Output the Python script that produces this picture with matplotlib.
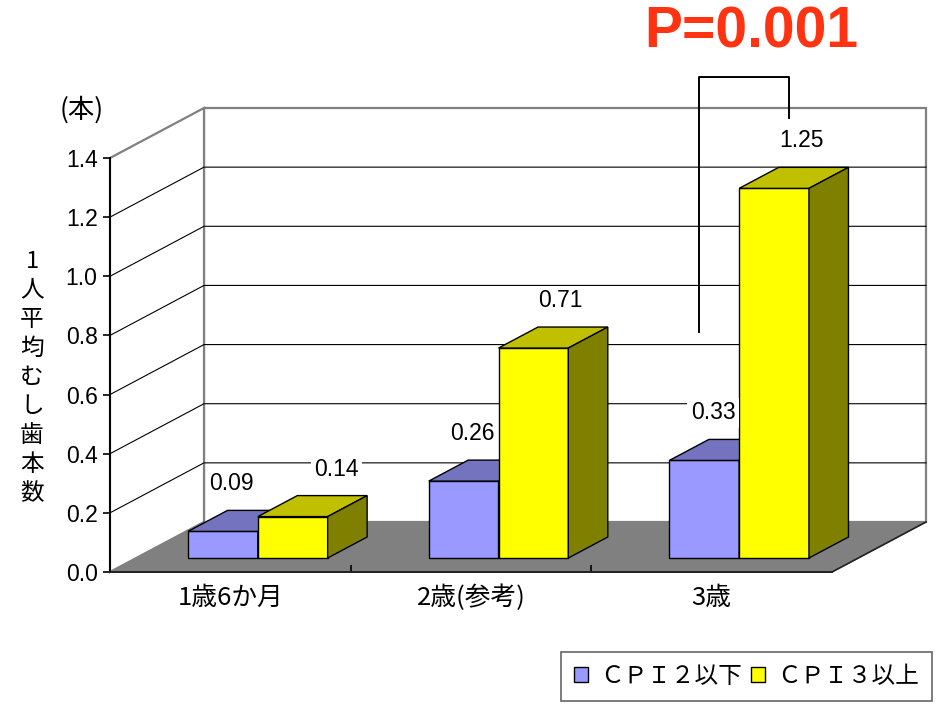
import numpy as np
import matplotlib
matplotlib.use('Agg')
import matplotlib.pyplot as plt
from matplotlib.patches import Polygon, Patch

plt.rcParams['font.family'] = ['Liberation Sans', 'DejaVu Sans']
CJK = ['Noto Sans CJK JP', 'DejaVu Sans']

categories = ['1歳6か月', '2歳(参考)', '3歳']
series_names = ['ＣＰＩ２以下', 'ＣＰＩ３以上']
low_cpi = [0.09, 0.26, 0.33]
high_cpi = [0.14, 0.71, 1.25]
yticks = [0.0, 0.2, 0.4, 0.6, 0.8, 1.0, 1.2, 1.4]
ylabel_chars = ['1', '人', '平', '均', 'む', 'し', '歯', '本', '数']

# face colours: front, top, side
blue = ('#9999ff', '#7373bf', '#4d4d80')
yellow = ('#ffff00', '#c0c000', '#808000')

W, H = 938, 707
fig = plt.figure(figsize=(W / 100, H / 100), dpi=100)
ax = fig.add_axes([110 / W, (H - 572) / H, 722 / W, 414 / H])
ymax = 1.4
ax.set_xlim(0, 3)
ax.set_ylim(0, ymax)

# oblique depth offset, in data units
DX = 94 / (722 / 3)
DY = 50 / (414 / ymax)


def proj(x, y, z):
    return (x + z * DX, y + z * DY)


def poly(pts, fc, ec='black', lw=1.0, z=2):
    ax.add_patch(Polygon(pts, closed=True, facecolor=fc, edgecolor=ec,
                         linewidth=lw, zorder=z, clip_on=False))


# walls and floor
poly([proj(0, 0, 1), proj(3, 0, 1), proj(3, ymax, 1), proj(0, ymax, 1)],
     'white', ec='#808080', lw=1.6, z=0)
poly([proj(0, 0, 0), proj(0, 0, 1), proj(0, ymax, 1), proj(0, ymax, 0)],
     'white', ec='#808080', lw=1.6, z=0)
for v in yticks[1:-1]:
    xs, ys = zip(proj(0, v, 0), proj(0, v, 1), proj(3, v, 1))
    ax.plot(xs, ys, color='black', lw=0.8, zorder=0.5, clip_on=False)
poly([proj(0, 0, 0), proj(3, 0, 0), proj(3, 0, 1), proj(0, 0, 1)],
     '#808080', ec='#808080', lw=1, z=1)

# bars
z0, z1 = 0.28, 0.70
bw = 0.29
x_start = 0.215
tops = []
for i in range(len(categories)):
    for s, (vals, cols) in enumerate([(low_cpi, blue), (high_cpi, yellow)]):
        x0 = i + x_start + s * bw
        x1 = x0 + bw
        h = vals[i]
        poly([proj(x0, 0, z0), proj(x1, 0, z0), proj(x1, h, z0), proj(x0, h, z0)], cols[0])
        poly([proj(x0, h, z0), proj(x1, h, z0), proj(x1, h, z1), proj(x0, h, z1)], cols[1])
        poly([proj(x1, 0, z0), proj(x1, 0, z1), proj(x1, h, z1), proj(x1, h, z0)], cols[2])
        mx, my = proj((x0 + x1) / 2, h, (z0 + z1) / 2)
        tops.append((s, i, mx, my, h))

# data labels
for s, i, mx, my, h in tops:
    dx = -0.045 if s == 0 else 0.03
    if s == 1 and i == 0:
        dx = 0.1
    ax.text(mx + dx, my + 0.125, f'{h:.2f}', ha='center', va='center', fontsize=16.5,
            zorder=5, bbox=dict(facecolor='white', edgecolor='none', pad=2.5),
            clip_on=False)

# axes
for sp in ['top', 'right']:
    ax.spines[sp].set_visible(False)
ax.spines['left'].set_linewidth(1.4)
ax.spines['bottom'].set_linewidth(1.4)
ax.spines['bottom'].set_color('#222222')
ax.spines['left'].set_zorder(3)
ax.spines['bottom'].set_zorder(3)
ax.set_yticks(yticks)
ax.set_yticklabels([f'{v:.1f}' for v in yticks], fontsize=16.5)
ax.tick_params(axis='y', direction='out', length=5, width=1.2, pad=4)
ax.set_xticks([1, 2])
ax.set_xticklabels([])
ax.tick_params(axis='x', direction='in', length=5, width=1.2)
ax.patch.set_visible(False)
for i, c in enumerate(categories):
    ax.text(i + 0.5, -0.088, c, ha='center', va='center', fontsize=18.5,
            family=CJK, clip_on=False)

# right wall corner on the floor
xs, ys = zip(proj(3, 0, 0), proj(3, 0, 1))
ax.plot(xs, ys, color='#222222', lw=1.2, zorder=1.5, clip_on=False)

# significance bracket
bx0 = 2 + x_start + bw / 2 + 0.5 * DX - 0.108
bx1 = 2 + x_start + 1.5 * bw + 0.5 * DX - 0.025
ax.plot([bx0, bx0, bx1, bx1], [low_cpi[2] + 0.48, 1.675, 1.675, high_cpi[2] + 0.285],
        color='black', lw=1.4, zorder=6, clip_on=False)
fig.text(751 / W, 1 - 33 / H, 'P=0.001', ha='center', va='center', fontsize=41,
         fontweight='bold', color='#ff3311')

# axis title
fig.text(82 / W, 1 - 110 / H, '(本)', ha='center', va='center', fontsize=19, family=CJK)
for k, ch in enumerate(ylabel_chars):
    fig.text(32 / W, 1 - (261 + 29.1 * k) / H, ch, ha='center', va='center',
             fontsize=17, family=CJK)

# legend
handles = [Patch(facecolor=blue[0], edgecolor='black'),
           Patch(facecolor=yellow[0], edgecolor='black')]
leg = fig.legend(handles, series_names, loc='upper left', ncol=2,
                 bbox_to_anchor=(561 / W, 1 - 652 / H), fancybox=False,
                 prop={'family': CJK, 'size': 17}, handlelength=0.6, handleheight=0.6,
                 handletextpad=0.5, columnspacing=0.4, borderpad=0.55, borderaxespad=0)
leg.get_frame().set_edgecolor('#404040')
leg.get_frame().set_linewidth(1.2)

fig.savefig('out.png', dpi=100)
